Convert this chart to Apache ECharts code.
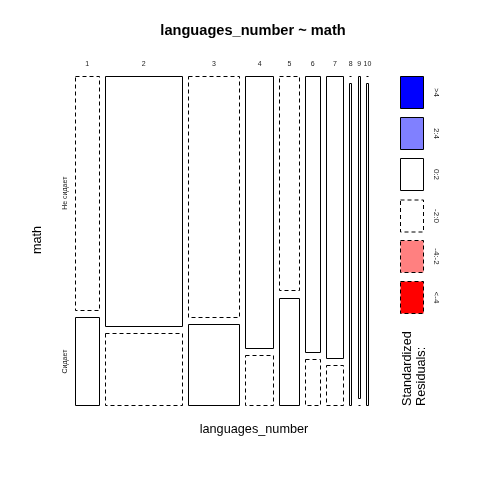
<!DOCTYPE html>
<html><head><meta charset="utf-8">
<script src="https://cdn.jsdelivr.net/npm/echarts@6/dist/echarts.min.js"></script>
<style>html,body{margin:0;padding:0;background:#fff}#c{width:480px;height:480px}</style>
</head><body><div id="c"></div><script>
// ---- data ----
const categories = ['1','2','3','4','5','6','7','8','9','10'];
const rowLabels = ['Не сидает', 'Сидает'];
const notSitting = [8, 28, 18, 11, 6, 6, 7, 0, 1, 0];   // top row
const sitting    = [3,  8,  6,  2, 3, 1, 1, 1, 0, 1];   // bottom row
const legendLabels = ['>4', '2:4', '0:2', '-2:0', '-4:-2', '<-4'];
const legendFills  = ['#0000FF', '#8080FF', '#FFFFFF', '#FFFFFF', '#FF8080', '#FF0000'];
const legendDashed = [false, false, false, true, true, true];
const titleText = 'languages_number ~ math';
const xTitle = 'languages_number';
const yTitle = 'math';
const legendTitle = ['Standardized', 'Residuals:'];

// ---- layout constants ----
const GAP_X = 2.9, GAP_Y = 0.022;
const FONT = '"Liberation Sans", Arial, sans-serif';

// ---- derived ----
const colTot = categories.map((c, i) => notSitting[i] + sitting[i]);
const N = colTot.reduce((a, b) => a + b, 0);
const rowTot = [notSitting.reduce((a, b) => a + b, 0), sitting.reduce((a, b) => a + b, 0)];
function resid(obs, i, r) { const e = colTot[i] * rowTot[r] / N; return (obs - e) / Math.sqrt(e); }
function fillFor(r) {
  if (r > 4) return '#0000FF'; if (r > 2) return '#8080FF';
  if (r < -4) return '#FF0000'; if (r < -2) return '#FF8080'; return '#FFFFFF';
}
const cells = [];
const colLabelData = [];
const rowLabelData = [];
let xs = 0;
categories.forEach((c, i) => {
  const x0 = xs, x1 = xs + colTot[i];
  const p = sitting[i] / colTot[i];
  cells.push([x0, x1, 0, p, resid(sitting[i], i, 1)]);
  cells.push([x0, x1, p + GAP_Y, 1 + GAP_Y, resid(notSitting[i], i, 0)]);
  colLabelData.push([(x0 + x1) / 2, 1 + GAP_Y, i]);
  if (i === 0) {
    rowLabelData.push([x0, (p + GAP_Y + 1 + GAP_Y) / 2, 0]);
    rowLabelData.push([x0, p / 2, 1]);
  }
  xs = x1 + GAP_X;
});
const xMax = xs - GAP_X;

const snap = v => Math.round(v - 0.5) + 0.5;

const chart = echarts.init(document.getElementById('c'), null, {renderer: 'canvas'});
const legendGraphics = [];
const boxTops = [76, 117, 158, 199.5, 240, 281];
legendLabels.forEach((l, k) => {
  legendGraphics.push({type: 'rect', shape: {x: 400.5, y: boxTops[k] + 0.5, width: 23, height: 32},
    style: {fill: legendFills[k], stroke: '#000', lineWidth: 1, lineDash: legendDashed[k] ? [4, 3] : null}});
  legendGraphics.push({type: 'text', x: 436, y: boxTops[k] + 16.5, rotation: -Math.PI / 2,
    style: {text: l, fill: '#222', font: '8px ' + FONT, textAlign: 'center', textVerticalAlign: 'middle'}});
});
legendGraphics.push({type: 'text', x: 407, y: 406, rotation: Math.PI / 2,
  style: {text: legendTitle[0], fill: '#000', font: '12.7px ' + FONT, textAlign: 'left', textVerticalAlign: 'middle'}});
legendGraphics.push({type: 'text', x: 421, y: 406, rotation: Math.PI / 2,
  style: {text: legendTitle[1], fill: '#000', font: '12.7px ' + FONT, textAlign: 'left', textVerticalAlign: 'middle'}});
legendGraphics.push({type: 'text', x: 253, y: 31,
  style: {text: titleText, fill: '#000', font: 'bold 14.6px ' + FONT, textAlign: 'center', textVerticalAlign: 'middle'}});
legendGraphics.push({type: 'text', x: 254, y: 429,
  style: {text: xTitle, fill: '#000', font: '12.7px ' + FONT, textAlign: 'center', textVerticalAlign: 'middle'}});
legendGraphics.push({type: 'text', x: 37, y: 240, rotation: Math.PI / 2,
  style: {text: yTitle, fill: '#000', font: '12.7px ' + FONT, textAlign: 'center', textVerticalAlign: 'middle'}});

chart.setOption({
  animation: false,
  backgroundColor: '#fff',
  grid: {left: 75.5, top: 76, width: 293, height: 329.5},
  xAxis: {type: 'value', min: 0, max: xMax, show: false},
  yAxis: {type: 'value', min: 0, max: 1 + GAP_Y, show: false},
  graphic: legendGraphics,
  series: [
    {
      type: 'custom', data: cells, clip: false,
      renderItem: function (params, api) {
        const x0 = api.value(0), x1 = api.value(1), y0 = api.value(2), y1 = api.value(3), r = api.value(4);
        const a = api.coord([x0, y1]), b = api.coord([x1, y0]);
        const L = snap(a[0]), R = snap(b[0]), T = snap(a[1]), B = snap(b[1]);
        if (y1 - y0 < 1e-9) {
          return {type: 'line', shape: {x1: L, y1: T, x2: R, y2: T},
            style: {stroke: '#000', lineWidth: 1, lineDash: [4, 3]}};
        }
        return {type: 'rect', shape: {x: L, y: T, width: R - L, height: B - T},
          style: {fill: fillFor(r), stroke: '#000', lineWidth: 1, lineDash: r < 0 ? [4, 3] : null}};
      }
    },
    {
      type: 'custom', data: colLabelData, clip: false,
      renderItem: function (params, api) {
        const p = api.coord([api.value(0), api.value(1)]);
        return {type: 'text', x: p[0], y: p[1] - 11.5,
          style: {text: categories[api.value(2)], fill: '#222', font: '7px ' + FONT, textAlign: 'center', textVerticalAlign: 'middle'}};
      }
    },
    {
      type: 'custom', data: rowLabelData, clip: false,
      renderItem: function (params, api) {
        const p = api.coord([api.value(0), api.value(1)]);
        return {type: 'text', x: p[0] - 10.5, y: p[1], rotation: Math.PI / 2,
          style: {text: rowLabels[api.value(2)], fill: '#222', font: '7px ' + FONT, textAlign: 'center', textVerticalAlign: 'middle'}};
      }
    }
  ]
});
</script></body></html>
